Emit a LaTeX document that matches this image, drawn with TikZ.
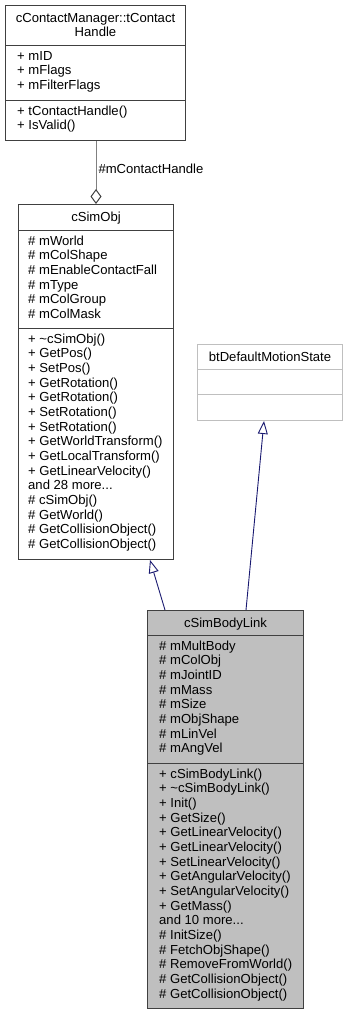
\documentclass[tikz,border=0pt]{standalone}
\usepackage{fontspec}
\setmainfont{Liberation Sans}
\usetikzlibrary{arrows.meta,calc}
\definecolor{edgeblue}{HTML}{191970}
\definecolor{boxline}{HTML}{404040}
\definecolor{lightline}{HTML}{BFBFBF}
\definecolor{linkfill}{HTML}{BFBFBF}
\definecolor{usegray}{HTML}{808080}
\newcommand{\moredots}{...}
\tikzset{
  classbox/.style={draw=boxline, line width=1pt, rectangle, inner sep=0pt, anchor=north west},
  divider/.style={draw=boxline, line width=1pt},
  txt/.style={inner sep=0pt, font=\fontsize{13.1}{14.67}\selectfont},
  inherit/.style={draw=edgeblue, line width=0.9pt,
    -{Triangle[open, length=13pt, width=10pt, fill=white]}},
  compose/.style={draw=usegray, line width=1pt,
    {Diamond[open, length=15pt, width=11pt, fill=white, color=boxline]}-}
}
\begin{document}
\begin{tikzpicture}[x=1pt, y=-1pt]
\useasboundingbox (0,0) rectangle (346,1015);

% --- cContactManager::tContactHandle ---
\node[classbox, fill=white, minimum width=180pt, minimum height=135pt] (tch) at (5,5) {};
\draw[divider] ($(tch.north west)+(0,40)$) -- ($(tch.north east)+(0,40)$);
\draw[divider] ($(tch.north west)+(0,95)$) -- ($(tch.north east)+(0,95)$);
\node[txt, anchor=base] (tch-t0) at ($(tch.north)+(0,17)$) {cContactManager::tContact};
\node[txt, anchor=base] (tch-t1) at ($(tch.north)+(0,31.67)$) {Handle};
\foreach \t [count=\i from 0] in {{+ mID},{+ mFlags},{+ mFilterFlags}}
  \node[txt, anchor=base west] (tch-a\i) at ($(tch.north west)+(12,55+14.67*\i)$) {\t};
\foreach \t [count=\i from 0] in {{+ tContactHandle()},{+ IsValid()}}
  \node[txt, anchor=base west] (tch-m\i) at ($(tch.north west)+(12,110+14.67*\i)$) {\t};

% --- cSimObj ---
\node[classbox, fill=white, minimum width=155pt, minimum height=355pt] (simobj) at (18,204) {};
\draw[divider] ($(simobj.north west)+(0,26)$) -- ($(simobj.north east)+(0,26)$);
\draw[divider] ($(simobj.north west)+(0,124)$) -- ($(simobj.north east)+(0,124)$);
\node[txt, anchor=base] (simobj-t) at ($(simobj.north)+(0,17)$) {cSimObj};
\foreach \t [count=\i from 0] in {{\# mWorld},{\# mColShape},{\# mEnableContactFall},{\# mType},{\# mColGroup},{\# mColMask}}
  \node[txt, anchor=base west] (simobj-a\i) at ($(simobj.north west)+(10,41+14.67*\i)$) {\t};
\foreach \t [count=\i from 0] in {{+ \textasciitilde cSimObj()},{+ GetPos()},{+ SetPos()},{+ GetRotation()},{+ GetRotation()},{+ SetRotation()},{+ SetRotation()},{+ GetWorldTransform()},{+ GetLocalTransform()},{+ GetLinearVelocity()},{and 28 more\moredots},{\# cSimObj()},{\# GetWorld()},{\# GetCollisionObject()},{\# GetCollisionObject()}}
  \node[txt, anchor=base west] (simobj-m\i) at ($(simobj.north west)+(10,139+14.67*\i)$) {\t};

% --- btDefaultMotionState ---
\node[classbox, draw=lightline, fill=white, minimum width=145pt, minimum height=76pt] (bt) at (197,344) {};
\draw[draw=lightline, line width=1pt] ($(bt.north west)+(0,25)$) -- ($(bt.north east)+(0,25)$);
\draw[draw=lightline, line width=1pt] ($(bt.north west)+(0,50)$) -- ($(bt.north east)+(0,50)$);
\node[txt, anchor=base] (bt-t) at ($(bt.north)+(0,17)$) {btDefaultMotionState};

% --- cSimBodyLink ---
\node[classbox, fill=linkfill, minimum width=156pt, minimum height=398pt] (link) at (147,610) {};
\draw[divider] ($(link.north west)+(0,25)$) -- ($(link.north east)+(0,25)$);
\draw[divider] ($(link.north west)+(0,153)$) -- ($(link.north east)+(0,153)$);
\node[txt, anchor=base] (link-t) at ($(link.north)+(0,17)$) {cSimBodyLink};
\foreach \t [count=\i from 0] in {{\# mMultBody},{\# mColObj},{\# mJointID},{\# mMass},{\# mSize},{\# mObjShape},{\# mLinVel},{\# mAngVel}}
  \node[txt, anchor=base west] (link-a\i) at ($(link.north west)+(12,40+14.67*\i)$) {\t};
\foreach \t [count=\i from 0] in {{+ cSimBodyLink()},{+ \textasciitilde cSimBodyLink()},{+ Init()},{+ GetSize()},{+ GetLinearVelocity()},{+ GetLinearVelocity()},{+ SetLinearVelocity()},{+ GetAngularVelocity()},{+ SetAngularVelocity()},{+ GetMass()},{and 10 more\moredots},{\# InitSize()},{\# FetchObjShape()},{\# RemoveFromWorld()},{\# GetCollisionObject()},{\# GetCollisionObject()}}
  \node[txt, anchor=base west] (link-m\i) at ($(link.north west)+(12,168+14.67*\i)$) {\t};

% --- relations ---
\draw[compose] ($(simobj.north west)+(78,0)$) -- ($(tch.south west)+(91,0)$)
  node[txt, pos=0.484, anchor=base west, xshift=2pt] (lbl) {\#mContactHandle};
\draw[inherit] ($(link.north west)+(18,0)$) -- ($(simobj.south west)+(132,0)$);
\draw[inherit] ($(link.north west)+(99,0)$) -- ($(bt.south west)+(67,0)$);
\end{tikzpicture}
\end{document}
